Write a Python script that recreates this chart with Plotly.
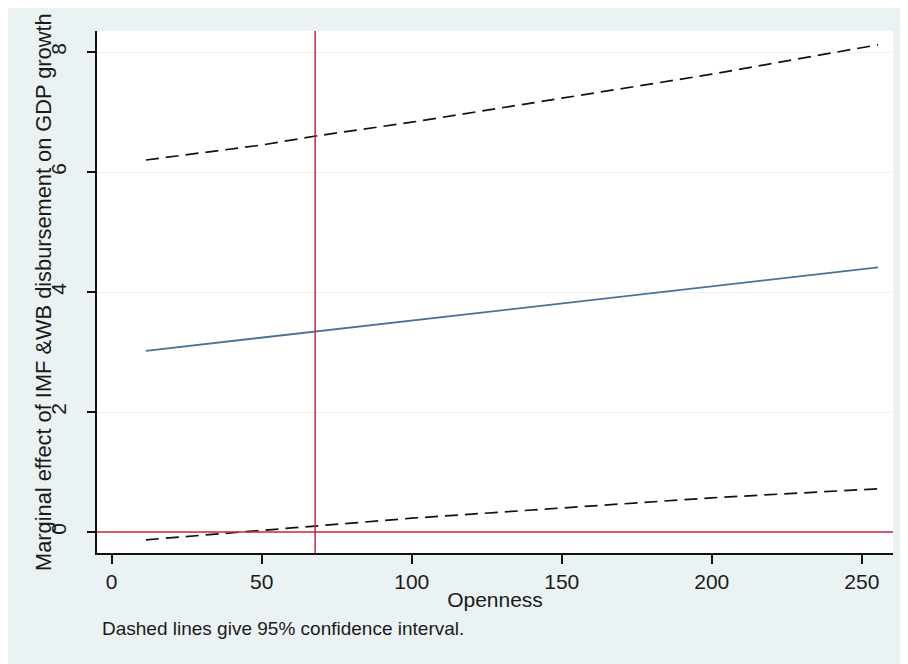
import plotly.graph_objects as go

# ---- data ----
openness = [11.4, 50, 68, 100, 150, 200, 255.4]
effect = [3.02, 3.24, 3.35, 3.53, 3.82, 4.10, 4.41]
upper_ci = [6.20, 6.45, 6.60, 6.83, 7.23, 7.63, 8.12]
lower_ci = [-0.13, 0.03, 0.10, 0.23, 0.40, 0.57, 0.72]
ref_openness = 67.8
x_ticks = [0, 50, 100, 150, 200, 250]
y_ticks = [0, 2, 4, 6, 8]
x_title = "Openness"
y_title = "Marginal effect of IMF &WB disbursement on GDP growth"
note = "Dashed lines give 95% confidence interval."

# the page body has an 8px margin, so the figure is drawn at (8, 8)
OFF = 8
W, H = 908 - OFF, 664 - OFF
L, R, T, B = 97 - OFF, 15, 31 - OFF, 111
pw, ph = W - L - R, H - T - B

def px_x(p):
    return (p - OFF - L) / pw

def px_y(p):
    return (H - B - (p - OFF)) / ph

BG = "#EAF2F3"
FONT = "Liberation Sans, Arial, sans-serif"
DASH = "13px,7px"

fig = go.Figure()
fig.add_trace(go.Scatter(x=openness, y=upper_ci, mode="lines",
                         line=dict(color="#111111", width=1.7, dash=DASH),
                         showlegend=False, hoverinfo="skip"))
fig.add_trace(go.Scatter(x=openness, y=effect, mode="lines",
                         line=dict(color="#48729A", width=1.8),
                         showlegend=False))
fig.add_trace(go.Scatter(x=openness, y=lower_ci, mode="lines",
                         line=dict(color="#111111", width=1.7, dash=DASH),
                         showlegend=False, hoverinfo="skip"))

shapes = [
    dict(type="line", xref="x", yref="paper", x0=ref_openness, x1=ref_openness,
         y0=0, y1=1, line=dict(color="#C9283E", width=1.5)),
    dict(type="line", xref="paper", yref="y", x0=0, x1=1, y0=0, y1=0,
         line=dict(color="#C9283E", width=1.5)),
]

fig.update_layout(
    width=W, height=H,
    margin=dict(l=L, r=R, t=T, b=B, pad=0),
    paper_bgcolor=BG, plot_bgcolor="white",
    font=dict(family=FONT, size=21, color="#1a1a1a"),
    shapes=shapes,
    xaxis=dict(range=[-4.9, 260.4], tickvals=x_ticks, showgrid=False, zeroline=False,
               showline=True, linecolor="#111111", linewidth=1.6,
               ticks="outside", ticklen=9, tickwidth=1.6, tickcolor="#111111",
               tickfont=dict(size=21),
               title=dict(text=x_title, font=dict(size=21), standoff=0)),
    yaxis=dict(range=[-0.35, 8.35], tickvals=y_ticks, showgrid=True, gridcolor=BG,
               gridwidth=1.2, zeroline=False, showline=True, linecolor="#111111",
               linewidth=1.6, ticks="outside", ticklen=8, tickwidth=1.6,
               tickcolor="#111111", tickangle=-90, tickfont=dict(size=21),
               ticklabelstandoff=13),
    annotations=[
        dict(text=y_title, xref="paper", yref="paper", x=px_x(43), y=px_y(292),
             xanchor="center", yanchor="middle", textangle=-90, showarrow=False,
             font=dict(size=21.8)),
        dict(text=note, xref="paper", yref="paper", x=px_x(100), y=px_y(628),
             xanchor="left", yanchor="middle", showarrow=False,
             font=dict(size=19)),
    ],
)

fig.write_html("out.html")
